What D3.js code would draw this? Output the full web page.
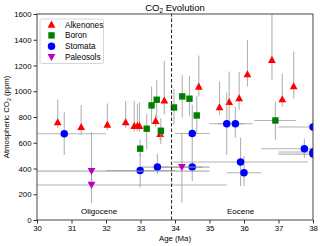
<!DOCTYPE html>
<html>
<head>
<meta charset="utf-8">
<script src="https://cdn.jsdelivr.net/npm/d3@7"></script>
<style>
  body { margin: 0; background: #fff; }
  svg { display: block; font-family: "Liberation Sans", Arial, sans-serif; }
</style>
</head>
<body>
<svg id="chart" width="320" height="246"></svg>
<script>
'use strict';

// Alkenones
var alkAge = [30.6, 31.28, 32.04, 32.57, 32.82, 32.91, 32.97, 33.44, 33.57, 33.69, 34.69, 35.29, 35.57, 35.86, 36.1, 36.81, 37.11, 37.44];
var alkCo2 = [760, 724, 742, 760, 732, 732, 732, 771, 669, 929, 1037, 877, 918, 947, 1133, 1245, 939, 1040];
var alkHi = [935, 893, 905, 926, 926, 903, 913, 820, 720, 1236, 1278, 1076, 1154, 1151, 1400, 1700, 1136, 1309];
var alkLo = [715, 665, 700, 716, 688, 688, 688, 720, 620, 820, 960, 817, 770, 856, 1037, 1089, 877, 942];

// Boron
var borAge = [32.99, 33.18, 33.32, 33.47, 33.59, 33.97, 34.21, 34.42, 34.63, 36.91];
var borCo2 = [554, 709, 890, 934, 693, 874, 960, 942, 812, 773];
var borHi = [625, 825, 1035, 1089, 790, 1019, 1128, 1120, 965, 918];
var borLo = [490, 548, 745, 780, 590, 740, 794, 804, 670, 623];
var borAgeLo = [null, null, null, null, null, null, null, null, null, 36.3];
var borAgeHi = [null, null, null, null, null, null, null, null, null, 37.5];

// Stomata
var stoAge = [30.79, 32.99, 33.49, 34.5, 34.5, 35.5, 35.75, 35.9, 36.0, 37.75, 38.0, 38.0, 38.0];
var stoCo2 = [670, 385, 411, 672, 411, 747, 747, 450, 367, 553, 722, 528, 512];
var stoHi = [840, 520, 512, 895, 560, 990, 877, 639, 497, 631, 760, 560, 540];
var stoLo = [505, 253, 357, 560, 303, 505, 639, 264, 264, 484, 690, 500, 490];
var stoAgeLo = [29.5, 32.0, 33.0, 34.0, 34.0, 35.0, 35.25, 33.95, 35.5, 36.5, 37.0, 37.0, 37.0];
var stoAgeHi = [32.0, 34.0, 34.0, 35.0, 35.0, 36.0, 36.25, 37.85, 36.5, 39.0, 39.0, 39.0, 39.0];

// Paleosols
var palAge = [31.58, 31.58, 34.2];
var palCo2 = [380, 272, 411];
var palHi = [683, 400, 678];
var palLo = [290, 132, 134];
var palAgeLo = [28.2, 27.7, 33.6];
var palAgeHi = [35.0, 35.5, 34.8];

var xTicks = [30, 31, 32, 33, 34, 35, 36, 37, 38];
var yTicks = [0, 200, 400, 600, 800, 1000, 1200, 1400, 1600];
var boundaryAge = 33.9;

function rows(age, co2, hi, lo, ageLo, ageHi)
{
  return age.map(function(a, i) {
    return {
      age: a, co2: co2[i], hi: hi[i], lo: lo[i],
      ageLo: ageLo ? ageLo[i] : null,
      ageHi: ageHi ? ageHi[i] : null
    };
  });
}

var series = [
  {name: 'Alkenones', color: '#ff0000', shape: 'up', data: rows(alkAge, alkCo2, alkHi, alkLo)},
  {name: 'Boron', color: '#008000', shape: 'square', data: rows(borAge, borCo2, borHi, borLo, borAgeLo, borAgeHi)},
  {name: 'Stomata', color: '#0000ff', shape: 'circle', data: rows(stoAge, stoCo2, stoHi, stoLo, stoAgeLo, stoAgeHi)},
  {name: 'Paleosols', color: '#bf00bf', shape: 'down', data: rows(palAge, palCo2, palHi, palLo, palAgeLo, palAgeHi)}
];

var margin = {left: 37, right: 7, top: 14, bottom: 26};
var W = 320, H = 246;

var x = d3.scaleLinear().domain([30, 38]).range([margin.left, W - margin.right]);
var y = d3.scaleLinear().domain([0, 1600]).range([H - margin.bottom, margin.top]);

var svg = d3.select('#chart');

svg.append('defs').append('clipPath').attr('id', 'plotClip')
  .append('rect')
  .attr('x', x(30)).attr('y', y(1600))
  .attr('width', x(38) - x(30)).attr('height', y(0) - y(1600));

var plot = svg.append('g').attr('clip-path', 'url(#plotClip)');

function marker(shape)
{
  if (shape === 'up') return 'M0,-3.9L3.9,3.2L-3.9,3.2Z';
  if (shape === 'down') return 'M0,3.9L3.9,-3.2L-3.9,-3.2Z';
  if (shape === 'square') return 'M-3.2,-3.2H3.2V3.2H-3.2Z';
  return d3.symbol().type(d3.symbolCircle).size(44)();
}

series.forEach(function(s) {
  var g = plot.append('g');

  // error bars
  g.selectAll('line.v').data(s.data).enter().append('line')
    .attr('x1', function(d) { return x(d.age); })
    .attr('x2', function(d) { return x(d.age); })
    .attr('y1', function(d) { return y(d.lo); })
    .attr('y2', function(d) { return y(d.hi); })
    .attr('stroke', '#999').attr('stroke-opacity', 0.75).attr('stroke-width', 1.1);

  g.selectAll('line.h').data(s.data.filter(function(d) { return d.ageLo !== null; })).enter().append('line')
    .attr('x1', function(d) { return x(d.ageLo); })
    .attr('x2', function(d) { return x(d.ageHi); })
    .attr('y1', function(d) { return y(d.co2); })
    .attr('y2', function(d) { return y(d.co2); })
    .attr('stroke', '#999').attr('stroke-opacity', 0.75).attr('stroke-width', 1.1);

  g.selectAll('path').data(s.data).enter().append('path')
    .attr('d', marker(s.shape))
    .attr('transform', function(d) { return 'translate(' + x(d.age) + ',' + y(d.co2) + ')'; })
    .attr('fill', s.color);
});

// Oligocene / Eocene boundary
plot.append('line')
  .attr('x1', x(boundaryAge)).attr('x2', x(boundaryAge))
  .attr('y1', y(0)).attr('y2', y(1600))
  .attr('stroke', '#222').attr('stroke-width', 1)
  .attr('stroke-dasharray', '3.5,2');

svg.append('text').attr('x', x(31.8)).attr('y', 214)
  .attr('text-anchor', 'middle').attr('font-size', '8px').text('Oligocene');
svg.append('text').attr('x', x(35.9)).attr('y', 214)
  .attr('text-anchor', 'middle').attr('font-size', '8px').text('Eocene');

// axes
var xAxis = svg.append('g')
  .attr('transform', 'translate(0,' + y(0) + ')')
  .call(d3.axisBottom(x).tickValues(xTicks).tickSize(3.5).tickPadding(2).tickFormat(d3.format('d')));

var yAxis = svg.append('g')
  .attr('transform', 'translate(' + x(30) + ',0)')
  .call(d3.axisLeft(y).tickValues(yTicks).tickSize(3.5).tickPadding(2).tickFormat(d3.format('d')));

[xAxis, yAxis].forEach(function(a) {
  a.select('.domain').remove();
  a.selectAll('line').attr('stroke', '#333');
  a.selectAll('text').attr('font-size', '7.8px').attr('fill', '#000')
    .attr('font-family', '"Liberation Sans", Arial, sans-serif');
});

svg.append('rect')
  .attr('x', x(30)).attr('y', y(1600))
  .attr('width', x(38) - x(30)).attr('height', y(0) - y(1600))
  .attr('fill', 'none').attr('stroke', '#333').attr('stroke-width', 0.9);

// titles
var title = svg.append('text').attr('x', (x(30) + x(38)) / 2).attr('y', 10.5)
  .attr('text-anchor', 'middle').attr('font-size', '9.5px');
title.append('tspan').text('CO');
title.append('tspan').attr('font-size', '6.5px').attr('dy', 2).text('2');
title.append('tspan').attr('dy', -2).text(' Evolution');

svg.append('text').attr('x', (x(30) + x(38)) / 2).attr('y', 241)
  .attr('text-anchor', 'middle').attr('font-size', '7.8px').text('Age (Ma)');

var yl = svg.append('text')
  .attr('transform', 'translate(9,' + ((y(0) + y(1600)) / 2) + ') rotate(-90)')
  .attr('text-anchor', 'middle').attr('font-size', '7.8px');
yl.append('tspan').text('Atmospheric CO');
yl.append('tspan').attr('font-size', '5.2px').attr('dy', 1.5).text('2');
yl.append('tspan').attr('dy', -1.5).text(' (ppm)');

// legend
var legend = svg.append('g').attr('transform', 'translate(40,19)');
legend.append('rect')
  .attr('width', 63.5).attr('height', 44.5).attr('rx', 2)
  .attr('fill', '#fff').attr('fill-opacity', 0.85)
  .attr('stroke', '#ccc').attr('stroke-width', 0.8);

var items = legend.selectAll('g.item').data(series).enter().append('g')
  .attr('transform', function(d, i) { return 'translate(11.5,' + (5.5 + i * 10.9) + ')'; });
items.append('path')
  .attr('d', function(d) { return marker(d.shape); })
  .attr('fill', function(d) { return d.color; });
items.append('text')
  .attr('x', 13.5).attr('y', 3)
  .attr('font-size', '8.2px')
  .text(function(d) { return d.name; });
</script>
</body>
</html>
